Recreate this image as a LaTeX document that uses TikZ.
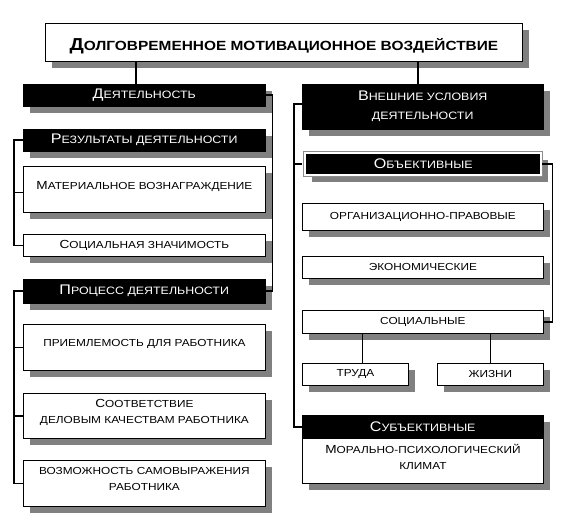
\documentclass[tikz,border=0pt]{standalone}
\usepackage{fontspec}
\setmainfont[FakeStretch=1.16]{Liberation Sans}
\usetikzlibrary{shadows}
\makeatletter
\newcommand\ini[1]{{\fontsize{\fpeval{1.3*\f@size}}{0}\selectfont #1}}
\newcommand\inis[1]{{\fontsize{\fpeval{1.15*\f@size}}{0}\selectfont #1}}
\makeatother
\tikzset{
 shad/.style={drop shadow={shadow xshift=7pt,shadow yshift=-7pt,opacity=1,fill=black!50}},
 bbox/.style={shad,anchor=north west,fill=black,draw=black,text=white,
   font=\fontsize{10.7}{19}\selectfont,align=center,inner sep=1pt},
 wbox/.style={shad,anchor=north west,fill=white,draw=black,line width=0.8pt,
   font=\fontsize{10.2}{16}\selectfont,align=center,inner sep=1pt},
 tall/.style={text depth=8pt},
 ring/.style={preaction={draw=black!45,line width=4.4pt},draw=white,line width=2.4pt},
 link/.style={line width=1.6pt}
}
\begin{document}
\begin{tikzpicture}[x=1pt,y=-1pt]
\useasboundingbox (0,0) rectangle (567,518);
%% top
\node[wbox,line width=0.9pt,minimum width=477,minimum height=38,text height=16pt,text depth=0pt,
  font=\fontsize{13.3}{17}\selectfont\bfseries] (title) at (45,23) {\ini{Д}ОЛГОВРЕМЕННОЕ МОТИВАЦИОННОЕ ВОЗДЕЙСТВИЕ};
%% left column
\node[bbox,minimum width=242,minimum height=22] (dey) at (23,84) {\ini{Д}ЕЯТЕЛЬНОСТЬ};
\node[bbox,minimum width=242,minimum height=22] (rez) at (23,129) {\ini{Р}ЕЗУЛЬТАТЫ ДЕЯТЕЛЬНОСТИ};
\node[wbox,tall,minimum width=242,minimum height=46] (mat) at (23,166) {\inis{М}АТЕРИАЛЬНОЕ ВОЗНАГРАЖДЕНИЕ};
\node[wbox,minimum width=242,minimum height=22] (soc) at (23,234) {\inis{С}ОЦИАЛЬНАЯ ЗНАЧИМОСТЬ};
\node[bbox,minimum width=242,minimum height=24] (proc) at (23,279) {\ini{П}РОЦЕСС ДЕЯТЕЛЬНОСТИ};
\node[wbox,tall,minimum width=242,minimum height=46] (prie) at (23,324) {ПРИЕМЛЕМОСТЬ ДЛЯ РАБОТНИКА};
\node[wbox,tall,minimum width=242,minimum height=45] (sootv) at (23,393) {\inis{С}ООТВЕТСТВИЕ\\ДЕЛОВЫМ КАЧЕСТВАМ РАБОТНИКА};
\node[wbox,tall,minimum width=242,minimum height=46] (vozm) at (23,460) {ВОЗМОЖНОСТЬ САМОВЫРАЖЕНИЯ\\РАБОТНИКА};
%% right column
\node[bbox,minimum width=241,minimum height=45] (vnesh) at (302,84) {\ini{В}НЕШНИЕ УСЛОВИЯ\\ДЕЯТЕЛЬНОСТИ};
\node[bbox,ring,minimum width=236,minimum height=22] (obj) at (304,152) {\ini{О}БЪЕКТИВНЫЕ};
\node[wbox,minimum width=241,minimum height=27] (org) at (302,203) {ОРГАНИЗАЦИОННО-ПРАВОВЫЕ};
\node[wbox,minimum width=241,minimum height=22] (econ) at (302,256) {ЭКОНОМИЧЕСКИЕ};
\node[wbox,minimum width=241,minimum height=23] (socl) at (302,310) {СОЦИАЛЬНЫЕ};
\node[wbox,minimum width=106,minimum height=22] (truda) at (302,363) {ТРУДА};
\node[wbox,minimum width=106,minimum height=22] (zhizni) at (437,363) {ЖИЗНИ};
\node[bbox,minimum width=241,minimum height=23] (subj) at (302,415) {\ini{С}УБЪЕКТИВНЫЕ};
\node[wbox,tall,minimum width=241,minimum height=45] (klim) at (302,438) {\inis{М}ОРАЛЬНО-ПСИХОЛОГИЧЕСКИЙ\\КЛИМАТ};
%% links
\draw[link] ([xshift=-8]dey.north) -- ([xshift=-8]dey.north |- title.south);
\draw[link] ([xshift=-5]vnesh.north) -- ([xshift=-5]vnesh.north |- title.south);
\draw[link] (dey.east) -- ++(7,0) |- (proc.east);
\draw[link] (rez.west) -- ++(-9,0) |- (soc.west);
\draw[link] ([yshift=-3]mat.west) -- ++(-9,0);
\draw[link] (proc.west) -- ++(-9,0) |- (vozm.west);
\draw[link] (prie.west) -- ++(-9,0);
\draw[link] (sootv.west) -- ++(-9,0);
\draw[link] ([yshift=2.5]vnesh.west) -- ++(-8,0) |- (subj.west);
\draw[link] ([xshift=-2]obj.west) -- ++(-8,0);
\draw[link] (obj.east) -- ++(10,0) |- (socl.east);
\draw[link] ([xshift=7]truda.north) -- ([xshift=7]truda.north |- socl.south);
\draw[link] (zhizni.north) -- (zhizni.north |- socl.south);
\end{tikzpicture}
\end{document}
